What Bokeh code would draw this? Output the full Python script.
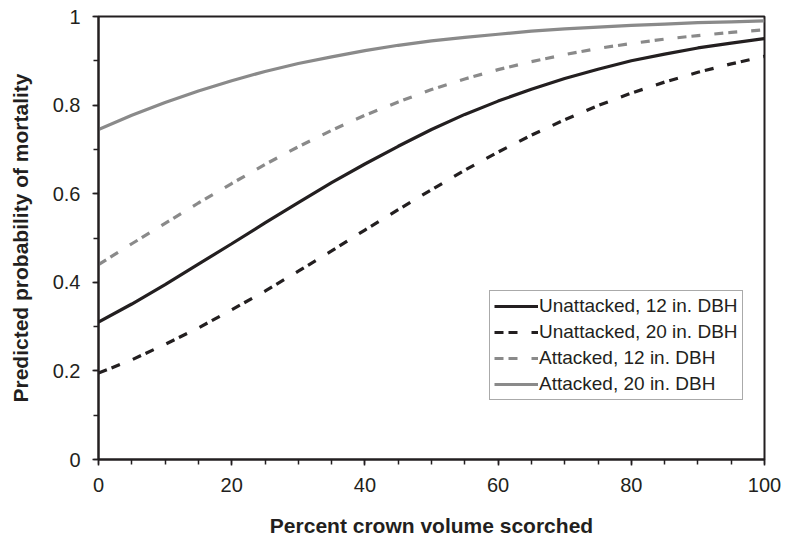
from bokeh.plotting import figure
from bokeh.models import Range1d, FixedTicker, CustomJSTickFormatter
from bokeh.embed import file_html
from bokeh.resources import INLINE

# Percent crown volume scorched
scorch = [0, 5, 10, 15, 20, 25, 30, 35, 40, 45, 50, 55, 60, 65, 70, 75, 80, 85, 90, 95, 100]

# Predicted probability of mortality for each group
unattacked_12 = [0.310, 0.351, 0.395, 0.441, 0.487, 0.534, 0.580, 0.625, 0.667, 0.707, 0.745,
                 0.779, 0.809, 0.836, 0.860, 0.881, 0.900, 0.915, 0.929, 0.940, 0.950]
unattacked_20 = [0.195, 0.225, 0.260, 0.297, 0.338, 0.380, 0.425, 0.471, 0.518, 0.564, 0.609,
                 0.653, 0.694, 0.732, 0.767, 0.799, 0.827, 0.852, 0.874, 0.893, 0.910]
attacked_12 = [0.440, 0.487, 0.533, 0.579, 0.623, 0.666, 0.706, 0.743, 0.777, 0.807, 0.835,
               0.859, 0.880, 0.898, 0.914, 0.928, 0.939, 0.949, 0.957, 0.964, 0.970]
attacked_20 = [0.745, 0.777, 0.806, 0.832, 0.855, 0.876, 0.894, 0.909, 0.923, 0.935, 0.945,
               0.953, 0.960, 0.967, 0.972, 0.976, 0.980, 0.983, 0.986, 0.988, 0.990]

x_ticks = [0, 20, 40, 60, 80, 100]
x_minor = [0, 5, 10, 15, 20, 25, 30, 35, 40, 45, 50, 55, 60, 65, 70, 75, 80, 85, 90, 95, 100]
y_ticks = [0, 0.2, 0.4, 0.6, 0.8, 1.0]
y_minor = [0, 0.1, 0.2, 0.3, 0.4, 0.5, 0.6, 0.7, 0.8, 0.9, 1.0]

INK = "#231f20"
GREY = "#8a8a8a"
FONT = "Liberation Sans"
DASH = "9 5 9 14"

p = figure(width=785, height=544, output_backend="svg", toolbar_location=None,
           x_range=Range1d(0, 100), y_range=Range1d(0, 1),
           min_border_left=98, min_border_right=21, min_border_top=16, min_border_bottom=85)

p.line(scorch, unattacked_12, line_color=INK, line_width=3.2, legend_label="Unattacked, 12 in. DBH")
p.line(scorch, unattacked_20, line_color=INK, line_width=3.2, line_dash=DASH,
       legend_label="Unattacked, 20 in. DBH")
p.line(scorch, attacked_12, line_color=GREY, line_width=3.2, line_dash=DASH,
       legend_label="Attacked, 12 in. DBH")
p.line(scorch, attacked_20, line_color=GREY, line_width=3.2, legend_label="Attacked, 20 in. DBH")

p.grid.visible = False
p.background_fill_color = "white"
p.border_fill_color = "white"
p.outline_line_color = INK
p.outline_line_width = 2
p.outline_line_alpha = 1

xa = p.xaxis[0]
xa.ticker = FixedTicker(ticks=x_ticks, minor_ticks=x_minor)
xa.axis_label = "Percent crown volume scorched"
ya = p.yaxis[0]
ya.ticker = FixedTicker(ticks=y_ticks, minor_ticks=y_minor)
ya.formatter = CustomJSTickFormatter(code="return tick.toFixed(1).replace(/\\.0$/, '')")
ya.axis_label = "Predicted probability of mortality"

for ax in (xa, ya):
    ax.axis_line_color = INK
    ax.axis_line_width = 2
    ax.major_tick_line_color = INK
    ax.minor_tick_line_color = INK
    ax.major_tick_line_width = 1.5
    ax.minor_tick_line_width = 1.5
    ax.major_tick_in = 0
    ax.minor_tick_in = 0
    ax.major_tick_out = 6
    ax.minor_tick_out = 5
    ax.major_label_text_font = FONT
    ax.major_label_text_font_size = "20px"
    ax.major_label_text_color = INK
    ax.axis_label_text_font = FONT
    ax.axis_label_text_font_size = "21px"
    ax.axis_label_text_font_style = "bold"
    ax.axis_label_text_color = INK

xa.major_label_standoff = 12
xa.axis_label_standoff = 19
ya.major_label_standoff = 12
ya.axis_label_standoff = 18
ya.major_label_orientation = "horizontal"

lg = p.legend[0]
lg.location = (391, 59)
lg.margin = 0
lg.padding = 4
lg.spacing = 4
lg.glyph_width = 44
lg.glyph_height = 22
lg.label_height = 22
lg.label_standoff = 1
lg.label_text_font = FONT
lg.label_text_font_size = "19px"
lg.label_text_color = INK
lg.border_line_color = "#555555"
lg.border_line_width = 1.2
lg.background_fill_color = "white"
lg.background_fill_alpha = 1

open("out.html", "w").write(file_html(p, INLINE))
